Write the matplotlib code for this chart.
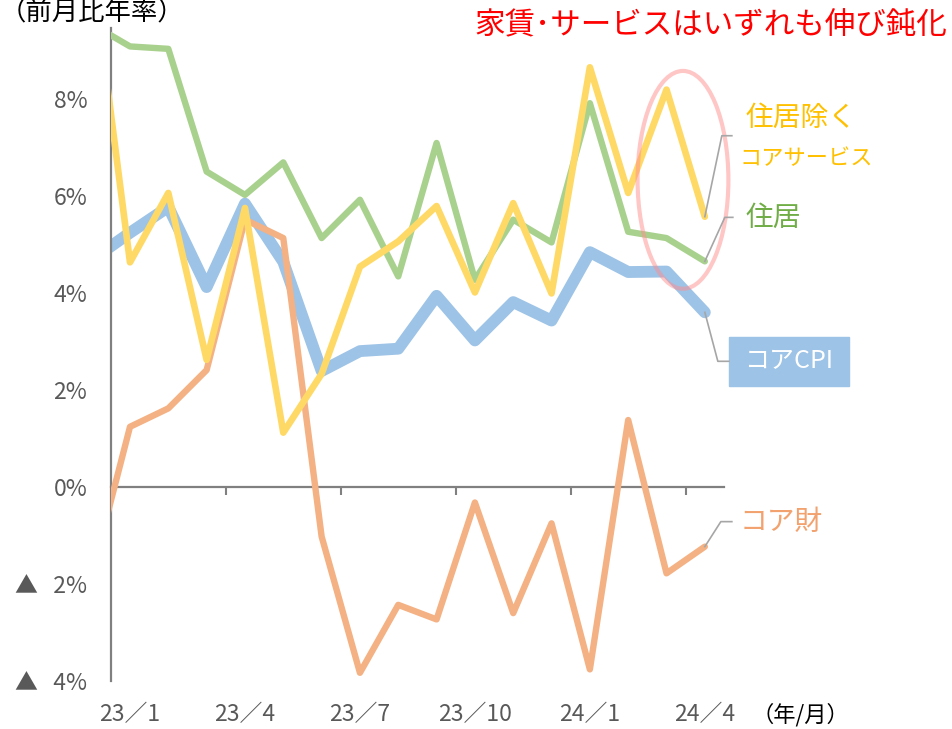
import numpy as np
import matplotlib
matplotlib.use('Agg')
import matplotlib.pyplot as plt
from matplotlib.patches import Ellipse, Rectangle
from matplotlib.lines import Line2D
from matplotlib import transforms

plt.rcParams['font.family'] = ['Noto Sans CJK JP', 'DejaVu Sans']

#----------------------------------------------------------------------
# DATA (month-on-month, annualised, %)
months = ['22/12', '23/1', '23/2', '23/3', '23/4', '23/5', '23/6', '23/7', '23/8',
          '23/9', '23/10', '23/11', '23/12', '24/1', '24/2', '24/3', '24/4']
tick_labels = ['23／1', '23／4', '23／7', '23／10', '24／1', '24／4']
tick_months = ['23/1', '23/4', '23/7', '23/10', '24/1', '24/4']

core_cpi = [4.68, 5.24, 5.77, 4.12, 5.84, 4.64, 2.39, 2.80, 2.85, 3.94, 3.02, 3.81, 3.43, 4.84, 4.43, 4.44, 3.60]
housing = [9.54, 9.08, 9.03, 6.50, 6.02, 6.69, 5.13, 5.92, 4.34, 7.09, 4.27, 5.51, 5.04, 7.91, 5.26, 5.13, 4.65]
services_ex_housing = [10.78, 4.63, 6.06, 2.62, 5.75, 1.12, 2.33, 4.54, 5.06, 5.79, 4.01, 5.85, 3.99, 8.65, 6.06, 8.19, 5.57]
core_goods = [-1.82, 1.24, 1.62, 2.41, 5.51, 5.13, -1.02, -3.83, -2.43, -2.73, -0.32, -2.60, -0.75, -3.76, 1.38, -1.78, -1.23]

y_ticks = [-4, -2, 0, 2, 4, 6, 8]
y_labels = ['▲   4%', '▲   2%', '0%', '2%', '4%', '6%', '8%']

#----------------------------------------------------------------------
# COLOURS
c_cpi = '#9DC3E6'
c_house = '#A9D18E'
c_serv = '#FFD966'
c_goods = '#F4B183'
grey = '#808080'
label_grey = '#595959'

#----------------------------------------------------------------------
# FIGURE
fig = plt.figure(figsize=(9.53, 7.29), dpi=100)
ax = fig.add_axes([0.1163, 0.0658, 0.6434, 0.8958])

x = np.arange(len(months))
line_kw = dict(solid_joinstyle='round', solid_capstyle='round')
ax.plot(x, core_cpi, color=c_cpi, lw=8.5, zorder=2, **line_kw)
ax.plot(x, core_goods, color=c_goods, lw=4.6, zorder=3, **line_kw)
ax.plot(x, housing, color=c_house, lw=4.6, zorder=4, **line_kw)
ax.plot(x, services_ex_housing, color=c_serv, lw=4.8, zorder=5, **line_kw)

ax.set_xlim(0.5, len(months) - 0.5)
ax.set_ylim(-4, 9.46)

# axes styling
for s in ['top', 'right']:
    ax.spines[s].set_visible(False)
ax.spines['left'].set_color(grey)
ax.spines['left'].set_linewidth(1.6)
ax.spines['bottom'].set_position(('data', 0))
ax.spines['bottom'].set_color(grey)
ax.spines['bottom'].set_linewidth(1.6)

ax.set_xticks([3.5, 6.5, 9.5, 12.5, 15.5])
ax.tick_params(axis='x', direction='out', length=6, width=1.5, color=grey, labelbottom=False)
ax.set_yticks(y_ticks)
ax.set_yticklabels(y_labels)
ax.tick_params(axis='y', length=0, pad=17, labelsize=16.5, labelcolor=label_grey)

# x labels under the plot
blend = transforms.blended_transform_factory(ax.transData, ax.transAxes)
for lab, m in zip(tick_labels, tick_months):
    ax.text(months.index(m), -0.052, lab, transform=blend, ha='center', va='center',
            fontsize=16.5, color=label_grey)
fig.text(0.789, 0.019, '（年/月）', ha='left', va='center', fontsize=16, color='black')

# highlight ellipse
ell = Ellipse((15.43, 6.33), 2.37, 4.49, fill=False, edgecolor='#FF8F8F', alpha=0.5,
              lw=3, zorder=6, clip_on=False)
ax.add_patch(ell)

# titles
fig.text(0.0, 0.982, '（前月比年率）', ha='left', va='center', fontsize=19, color='black')
fig.text(0.746, 0.965, '家賃･サービスはいずれも伸び鈍化', ha='center', va='center',
         fontsize=22, color='#FF0000')

# series labels
fig.text(0.782, 0.838, '住居除く', ha='left', va='center', fontsize=20, color='#FFC000')
fig.text(0.776, 0.783, 'コアサービス', ha='left', va='center', fontsize=16, color='#FFC000')
fig.text(0.782, 0.701, '住居', ha='left', va='center', fontsize=20, color='#70AD47')
fig.patches.append(Rectangle((729 / 953, 1 - 386 / 729), 120 / 953, 49 / 729,
                             transform=fig.transFigure, color=c_cpi, zorder=1))
fig.text(0.828, 0.505, 'コアCPI', ha='center', va='center', fontsize=18, color='white', zorder=2)
fig.text(0.776, 0.284, 'コア財', ha='left', va='center', fontsize=20, color='#F2A26E')

# leader lines from last points (offsets in pixels)
leaders = [(services_ex_housing, 17, 81, 27),
           (housing, 20, 44, 28),
           (core_cpi, 13, -49, 24),
           (core_goods, 16, 25, 27)]
for series, dx1, dy1, dx2 in leaders:
    x0, y0 = ax.transData.transform((len(months) - 1, series[-1]))
    fig.add_artist(Line2D([x0, x0 + dx1, x0 + dx2], [y0, y0 + dy1, y0 + dy1],
                          transform=transforms.IdentityTransform(),
                          color='#A6A6A6', lw=1.2, zorder=10))

fig.savefig('out.png', dpi=100)
